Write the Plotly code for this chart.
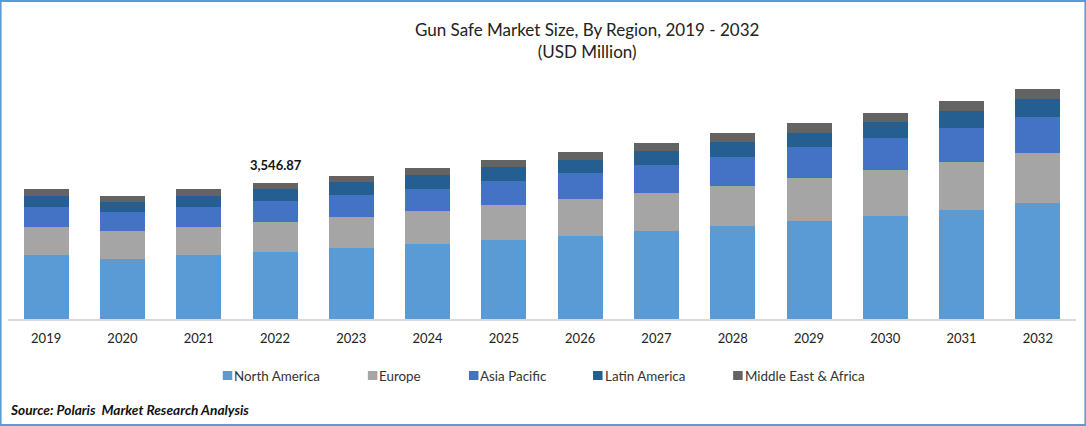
#!/usr/bin/env python3
"""Gun Safe Market Size, By Region - stacked bars."""

import plotly.graph_objects as go

FONT = "Lato, Carlito, Calibri, sans-serif"

YEARS = ["2019", "2020", "2021", "2022", "2023", "2024", "2025",
         "2026", "2027", "2028", "2029", "2030", "2031", "2032"]

# USD million
NORTH_AMERICA = [1669, 1565, 1669, 1747, 1852, 1956, 2060, 2165, 2295, 2425, 2556, 2686, 2843, 3025]
EUROPE = [730, 730, 730, 782, 808, 861, 913, 965, 991, 1043, 1121, 1200, 1252, 1304]
ASIA_PACIFIC = [522, 495, 522, 548, 574, 574, 626, 678, 730, 756, 808, 835, 887, 939]
LATIN_AMERICA = [287, 261, 287, 313, 339, 365, 365, 339, 365, 391, 365, 417, 443, 469]
MIDDLE_EAST_AFRICA = [183, 156, 183, 156.87, 156, 183, 183, 209, 209, 235, 261, 235, 261, 261]

NAMES = ["North America", "Europe", "Asia Pacific", "Latin America", "Middle East & Africa"]
COLORS = ["#5B9BD5", "#A5A5A5", "#4472C4", "#255E91", "#636363"]
SERIES = [NORTH_AMERICA, EUROPE, ASIA_PACIFIC, LATIN_AMERICA, MIDDLE_EAST_AFRICA]

LABEL_YEAR = "2022"
LABEL_TEXT = "3,546.87"
LABEL_VALUE = 3546.87

# Page layout, in pixels from the top-left of the picture
WIDTH, HEIGHT = 1086, 426
PLOT_L, PLOT_R, PLOT_T, PLOT_B = 8.4, 1075.6, 60, 319
LEGEND_X = [223, 368, 469, 593, 733]
LEGEND_Y = 375.5


def px(x):
    return (x - PLOT_L) / (PLOT_R - PLOT_L)


def py(y):
    return (PLOT_B - y) / (PLOT_B - PLOT_T)


fig = go.Figure()

for name, values, color in zip(NAMES, SERIES, COLORS):
    fig.add_trace(go.Bar(x=YEARS, y=values, name=name, marker=dict(color=color, line=dict(width=0))))

fig.add_annotation(
    x=YEARS.index(LABEL_YEAR), y=LABEL_VALUE, text=f"<b>{LABEL_TEXT}</b>", showarrow=False,
    yanchor="bottom", xshift=1, yshift=8, font=dict(family=FONT, size=13, color="#111"),
)

fig.add_annotation(
    text="Gun Safe Market Size, By Region, 2019 - 2032<br>(USD Million)",
    xref="paper", yref="paper", x=px(587), y=py(40.5), showarrow=False, yanchor="middle",
    font=dict(family=FONT, size=17, color="#222"), align="center",
)

fig.add_annotation(
    text="<b><i>Source: Polaris  Market Research Analysis</i></b>",
    xref="paper", yref="paper", x=px(8), y=py(409), showarrow=False,
    xanchor="left", yanchor="middle", font=dict(family=FONT, size=13.7, color="#111"),
)

# Legend drawn by hand, the swatches sit close to their text
for name, color, x in zip(NAMES, COLORS, LEGEND_X):
    fig.add_shape(type="rect", xref="paper", yref="paper",
                  x0=px(x), x1=px(x + 9.5), y0=py(LEGEND_Y + 4.5), y1=py(LEGEND_Y - 4.5),
                  line=dict(width=0), fillcolor=color)
    fig.add_annotation(
        text=name, xref="paper", yref="paper", x=px(x + 9.5), y=py(LEGEND_Y), showarrow=False,
        xanchor="left", yanchor="middle", font=dict(family=FONT, size=13.4, color="#333"),
    )

# Frame around the whole picture
fig.add_shape(type="rect", xref="paper", yref="paper",
              x0=px(1), x1=px(WIDTH - 1), y0=py(HEIGHT - 1), y1=py(1),
              line=dict(color="#5B9BD5", width=2), fillcolor="rgba(0,0,0,0)", layer="above")

fig.update_layout(
    barmode="stack",
    bargap=0.41,
    width=WIDTH,
    height=HEIGHT,
    margin=dict(l=PLOT_L, r=WIDTH - PLOT_R, t=PLOT_T, b=HEIGHT - PLOT_B, pad=0),
    paper_bgcolor="white",
    plot_bgcolor="white",
    xaxis=dict(
        type="category",
        range=[-0.5, 13.5],
        showgrid=False,
        linecolor="#D9D9D9",
        linewidth=1.5,
        ticks="",
        ticklabelstandoff=7,
        tickfont=dict(family=FONT, size=13, color="#222"),
    ),
    yaxis=dict(visible=False, range=[0, 6755], showgrid=False),
    showlegend=False,
)

fig.write_html("out.html", config=dict(displayModeBar=False), post_script="document.body.style.margin='0';")
